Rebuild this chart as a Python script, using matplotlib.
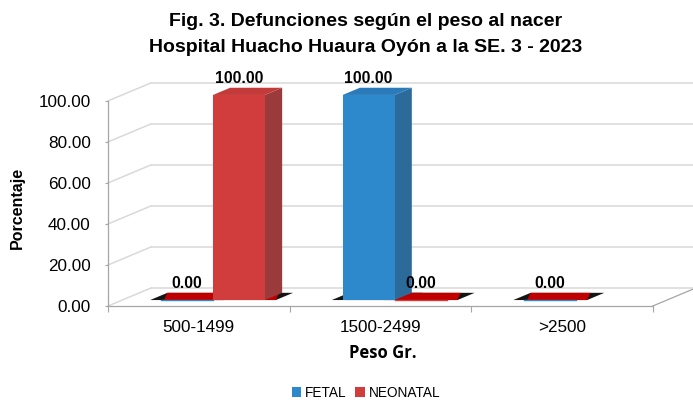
import matplotlib
matplotlib.use("Agg")
import matplotlib.pyplot as plt
from matplotlib.patches import Polygon, Patch
import numpy as np

# ---- data ----
categories = ["500-1499", "1500-2499", ">2500"]
series_names = ["FETAL", "NEONATAL"]
fetal = [0.00, 100.00, 0.00]
neonatal = [100.00, 0.00, np.nan]
y_ticks = [0, 20, 40, 60, 80, 100]

title_lines = ["Fig. 3. Defunciones según el peso al nacer",
               "Hospital Huacho Huaura Oyón a la SE. 3 - 2023"]

# ---- styles ----
front_col = ["#2E88CC", "#D13D3D"]
top_col = ["#2B7BBB", "#C33A3A"]
side_col = ["#2C6A9A", "#9A3A3A"]
slab_col = "#C00000"
grid_col = "#D9D9D9"
axis_col = "#A6A6A6"

plain = ["Liberation Sans", "DejaVu Sans"]

fig = plt.figure(figsize=(6.93, 4.03), dpi=100)
ax = fig.add_axes([108 / 693, 97 / 403, 585 / 693, 226 / 403])
ax.set_xlim(-0.5, 2.7214)
ax.set_ylim(0, 110.2)

# 3-D projection offsets expressed in data units
wall_dx, wall_dy = 0.237, 8.8        # full depth of the plot box
start_f, depth_f = 0.33, 0.40        # bar position inside the depth
sdx, sdy = wall_dx * start_f, wall_dy * start_f
bdx, bdy = wall_dx * depth_f, wall_dy * depth_f
bar_w = 0.286
pad = 0.06

x_left, x_right = -0.5, 2.5
x_max = ax.get_xlim()[1]

# back wall gridlines and side wall diagonals
for v in y_ticks:
    ax.plot([x_left + wall_dx, x_max + 0.05], [v + wall_dy, v + wall_dy],
            color=grid_col, lw=1.1, zorder=1, clip_on=False, solid_capstyle="butt")
    ax.plot([x_left, x_left + wall_dx], [v, v + wall_dy],
            color=grid_col, lw=1.1, zorder=1, clip_on=False)
# floor right edge
ax.plot([x_right, x_right + wall_dx], [0, wall_dy], color=axis_col, lw=0.9,
        zorder=1, clip_on=False)

values = [fetal, neonatal]

# base slabs under every bar
for s, vals in enumerate(values):
    for i, v in enumerate(vals):
        if np.isnan(v):
            continue
        x0 = i + sdx - bar_w + s * bar_w
        x1 = x0 + bar_w
        a, b = x0 - pad, x1 + pad
        dark = Polygon([(a, sdy), (b, sdy), (b + bdx, sdy + bdy), (a + bdx, sdy + bdy)],
                       closed=True, facecolor="#151515", edgecolor="none", zorder=2)
        body = Polygon([(a + bdx * 0.8, sdy), (b, sdy), (b + bdx * 0.2, sdy + bdy),
                        (a + bdx, sdy + bdy)],
                       closed=True, facecolor=slab_col, edgecolor="none", zorder=2.1)
        ax.add_patch(dark)
        ax.add_patch(body)
        if v == 0:
            ax.plot([x0, x1], [sdy, sdy], color=front_col[s], lw=1.0, zorder=2.2)

# 3-D bars
for i in range(len(categories)):
    for s, vals in enumerate(values):
        v = vals[i]
        if np.isnan(v):
            continue
        x0 = i + sdx - bar_w + s * bar_w
        x1 = x0 + bar_w
        y0, y1 = sdy, sdy + v
        if v > 0:
            front = Polygon([(x0, y0), (x1, y0), (x1, y1), (x0, y1)], closed=True,
                            facecolor=front_col[s], edgecolor="none", zorder=3)
            top = Polygon([(x0, y1), (x1, y1), (x1 + bdx, y1 + bdy), (x0 + bdx, y1 + bdy)],
                          closed=True, facecolor=top_col[s], edgecolor="none", zorder=3)
            side = Polygon([(x1, y0), (x1 + bdx, y0 + bdy), (x1 + bdx, y1 + bdy), (x1, y1)],
                           closed=True, facecolor=side_col[s], edgecolor="none", zorder=3)
            for p in (side, top, front):
                ax.add_patch(p)
        ax.annotate(f"{v:.2f}", xy=((x0 + x1) / 2, y1), xytext=(0, 8.6),
                    textcoords="offset points", ha="center", va="baseline",
                    fontsize=11.3, fontweight="bold", family=plain, color="black",
                    zorder=6, annotation_clip=False)

# axes styling
for side_name in ("top", "right"):
    ax.spines[side_name].set_visible(False)
ax.spines["left"].set_bounds(0, 100)
ax.spines["bottom"].set_bounds(x_left, x_right)
for side_name in ("left", "bottom"):
    ax.spines[side_name].set_color(axis_col)
    ax.spines[side_name].set_linewidth(0.9)

ax.set_yticks(y_ticks)
ax.set_yticklabels([f"{t:.2f}" for t in y_ticks], fontsize=12.3, family=plain)
ax.tick_params(axis="y", length=2.5, width=0.8, color=axis_col, pad=10)

ax.set_xticks([-0.5, 0.5, 1.5, 2.5])
ax.set_xticklabels([])
ax.tick_params(axis="x", which="major", length=4, width=0.8, color=axis_col)
ax.set_xticks(range(len(categories)), minor=True)
ax.set_xticklabels(categories, minor=True, fontsize=12.3, family=plain)
ax.tick_params(axis="x", which="minor", length=0, pad=10)

ax.set_ylabel("Porcentaje", fontsize=11.5, fontweight="bold", family=plain)
ax.yaxis.set_label_coords(-83 / 585, (306 - 208) / 226)
ax.set_xlabel("Peso Gr.", fontsize=12, fontweight="bold", family=["Open Sans", "DejaVu Sans"])
ax.xaxis.set_label_coords((383 - 108) / 585, -(344 - 306) / 226)
ax.patch.set_visible(False)

for line, ypix in zip(title_lines, (22, 47)):
    fig.text(366 / 693, 1 - ypix / 403, line, ha="center", va="center", fontsize=14,
             fontweight="bold", family=plain)

handles = [Patch(facecolor=front_col[0]), Patch(facecolor=front_col[1])]
fig.legend(handles, series_names, loc="center", bbox_to_anchor=(366 / 693, 1 - 393 / 403),
           ncol=2, frameon=False, prop={"family": plain, "size": 9.8},
           handlelength=0.7, handleheight=0.7, handletextpad=0.3, columnspacing=0.6)

fig.savefig("out.png", dpi=100)
